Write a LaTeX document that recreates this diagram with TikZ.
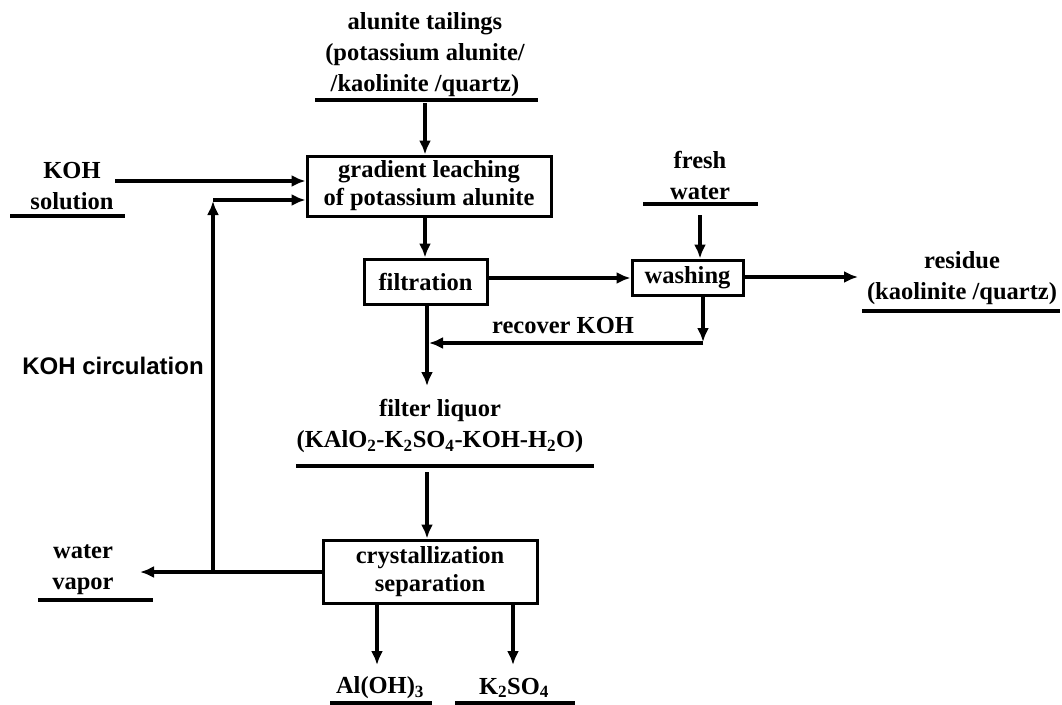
\documentclass[tikz,border=0pt]{standalone}
\usepackage{fontspec}
\setmainfont{Liberation Serif}
\newfontfamily\sansf{Liberation Sans}
\usetikzlibrary{arrows.meta}
\tikzset{
  txt/.style={font=\bfseries\fontsize{24.5}{31}\selectfont, align=center, inner sep=0pt},
  procbox/.style={draw, line width=3pt, align=center, inner sep=0pt, font=\bfseries\fontsize{24.5}{28}\selectfont},
  flow/.style={line width=3.4pt, -{Latex[length=14pt,width=12pt]}},
  uline/.style={line width=3.4pt}
}
\begin{document}
\begin{tikzpicture}[x=1pt,y=-1pt]
\useasboundingbox (0,0) rectangle (1062,704);
% text labels
\node[txt] (tail) at (425,55) {alunite tailings\\(potassium alunite/\\/kaolinite /quartz)};
\draw[uline] (315,100) -- (538,100);
\node[txt] (koh) at (72,186) {KOH\\solution};
\draw[uline] (10,216) -- (125,216);
\node[txt] (fresh) at (700,175) {fresh\\water};
\draw[uline] (643,204) -- (758,204);
\node[txt] (res) at (962,278) {residue\\(kaolinite /quartz)};
\draw[uline] (862,311) -- (1060,311);
\node[txt] (liq) at (440,426) {filter liquor\\(KAlO\textsubscript{2}-K\textsubscript{2}SO\textsubscript{4}-KOH-H\textsubscript{2}O)};
\draw[uline] (296,466) -- (594,466);
\node[txt] (vap) at (83,570) {water\\vapor};
\draw[uline] (38,600) -- (153,600);
\node[txt] (aloh) at (380,688) {Al(OH)\textsubscript{3}};
\draw[uline] (330,703) -- (432,703);
\node[txt] (kso) at (514,688) {K\textsubscript{2}SO\textsubscript{4}};
\draw[uline] (455,703) -- (575,703);
\node[font=\sansf\bfseries\fontsize{24}{28}\selectfont, inner sep=0pt] (circ) at (113,366) {KOH circulation};
\node[txt] (rec) at (563,326) {recover KOH};
% process boxes
\node[procbox, minimum width=244pt, minimum height=60pt] (grad) at (429,186) {gradient leaching\\of potassium alunite};
\node[procbox, minimum width=123pt, minimum height=45pt] (filt) at (425.5,281.5) {filtration};
\node[procbox, minimum width=111pt, minimum height=35pt] (wash) at (687.5,277.5) {washing};
\node[procbox, minimum width=214pt, minimum height=63pt] (cry) at (430,571.5) {crystallization\\separation};
% connectors
\draw[flow] (425,103) -- (grad.north -| 425,0);
\draw[flow] (115,181) -- (grad.west |- 0,181);
\coordinate (jv) at (213,572);
\coordinate (jt) at (213,200);
\draw[flow] (jv) -- (213,201);
\draw[flow] (jt) -- (grad.west |- jt);
\draw[flow] (grad.south -| 425,0) -- (filt.north -| 425,0);
\draw[flow] (filt.east |- 0,278) -- (wash.west |- 0,278);
\draw[flow] (700,215) -- (wash.north -| 700,0);
\draw[flow] (wash.east |- 0,277) -- (858,277);
\coordinate (wb) at (703,343);
\draw[flow] (wash.south -| 703,0) -- (703,342);
\draw[flow] (wb) -- (429,343);
\draw[flow] (filt.south -| 427,0) -- (427,386);
\draw[flow] (427,472) -- (cry.north -| 427,0);
\draw[flow] (cry.west |- jv) -- (140,572);
\draw[flow] (cry.south -| 377,0) -- (377,665);
\draw[flow] (cry.south -| 513,0) -- (513,665);
\end{tikzpicture}
\end{document}
